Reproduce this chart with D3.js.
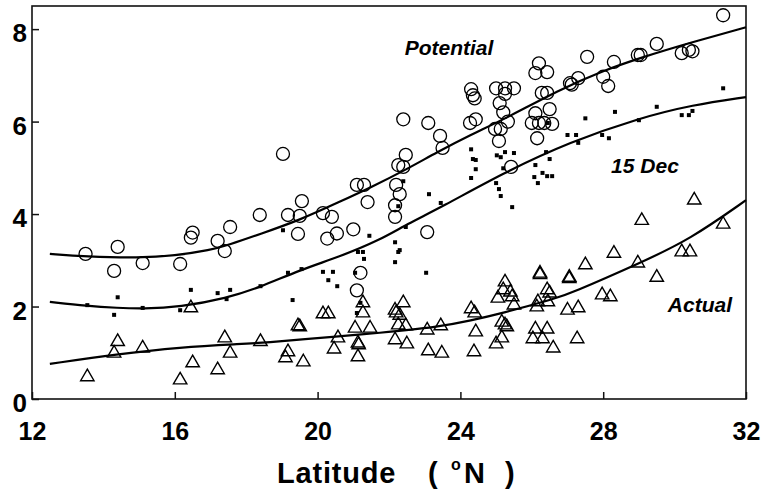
<!DOCTYPE html>
<html>
<head>
<meta charset="utf-8">
<script src="https://cdn.jsdelivr.net/npm/d3@7"></script>
<style>
  html, body { margin: 0; padding: 0; background: #fff; }
  svg { display: block; font-family: "Liberation Sans", Arial, Helvetica, sans-serif; }
</style>
</head>
<body>
<svg id="chart" width="768" height="492"></svg>
<script>
// Latitude (°N) and value for each station, per series
const potentialPts = [
  [13.5,3.14],[14.3,2.77],[14.4,3.29],[15.1,2.94],[16.15,2.92],[16.45,3.49],[16.5,3.6],
  [17.2,3.42],[17.4,3.2],[17.55,3.72],[18.38,3.98],[19.03,5.3],[19.17,3.98],[19.5,3.96],
  [19.45,3.57],[19.56,4.28],[20.15,4.02],[20.4,3.94],[20.27,3.47],[20.54,3.58],[21.0,3.67],
  [21.1,4.63],[21.3,4.63],[21.4,4.26],[21.2,2.73],[21.1,2.35],[22.17,4.19],[22.17,3.94],
  [22.26,5.06],[22.47,5.28],[22.4,5.02],[22.2,4.63],[22.3,4.43],[22.4,6.05],[23.07,3.61],
  [23.1,5.97],[23.43,5.69],[23.5,5.43],[24.27,5.97],[24.43,6.05],[24.3,6.7],[24.35,6.57],
  [24.4,6.5],[25.0,6.72],[25.25,6.72],[25.5,6.72],[25.25,6.6],[25.1,6.4],[25.2,6.2],
  [25.33,6.0],[24.97,5.84],[25.13,5.84],[25.08,5.58],[25.42,5.02],[26.2,7.26],[26.43,7.07],
  [26.1,7.05],[26.28,6.62],[26.43,6.62],[26.1,6.18],[26.5,6.27],[26.0,5.97],[26.2,5.97],
  [26.35,5.97],[26.57,5.95],[26.15,5.64],[27.07,6.83],[27.12,6.8],[27.3,6.94],[27.55,7.4],
  [28.0,6.97],[28.14,6.77],[28.3,7.29],[28.97,7.44],[29.05,7.44],[29.5,7.68],[30.2,7.48],
  [30.4,7.55],[30.5,7.52],[31.36,8.3]
];

const dec15Pts = [
  [13.55,2.03],[14.3,1.82],[14.4,2.2],[15.1,1.97],[16.15,1.92],[16.45,2.36],[17.2,2.29],
  [17.55,2.36],[17.45,2.16],[18.4,2.44],[19.03,3.65],[19.17,2.73],[19.55,2.81],[19.3,2.14],
  [20.15,2.75],[20.43,2.75],[20.3,2.57],[20.55,2.44],[21.13,3.18],[21.27,3.18],[21.3,3.03],
  [21.05,2.73],[21.2,2.08],[21.1,1.86],[21.45,3.53],[22.17,3.39],[22.3,3.22],[22.26,3.18],
  [22.17,2.96],[22.26,4.17],[22.47,3.72],[23.04,2.73],[23.45,4.24],[22.4,4.71],[23.12,4.43],
  [24.3,5.4],[24.35,5.19],[24.43,5.17],[24.43,4.97],[24.3,4.78],[25.02,5.27],[25.13,5.23],
  [25.25,5.34],[25.5,5.32],[25.2,4.99],[25.0,4.67],[25.08,4.54],[25.13,4.39],[25.45,4.15],
  [26.45,5.97],[26.4,5.34],[26.5,5.19],[26.1,5.06],[26.3,4.89],[26.43,4.82],[26.57,4.82],
  [26.07,4.8],[26.17,4.67],[27.0,5.71],[27.24,5.71],[27.3,5.54],[27.5,6.07],[27.97,5.71],
  [28.16,5.64],[28.33,6.21],[29.0,6.03],[29.5,6.32],[30.2,6.14],[30.4,6.14],[30.5,6.23],
  [31.36,6.72]
];

const actualPts = [
  [13.55,0.48],[14.3,0.99],[14.4,1.24],[15.1,1.1],[16.15,0.41],[16.5,0.78],[16.45,1.97],
  [17.2,0.63],[17.4,1.32],[17.55,0.99],[18.4,1.24],[19.17,1.02],[19.1,0.89],[19.6,0.8],
  [19.45,1.58],[19.5,1.56],[20.15,1.84],[20.3,1.84],[20.57,1.32],[20.46,1.08],[21.05,1.53],
  [21.13,1.21],[21.15,1.17],[21.13,0.91],[21.47,1.53],[21.27,2.08],[21.27,1.86],[22.17,1.92],
  [22.2,1.86],[22.3,1.81],[22.4,2.08],[22.26,1.6],[22.47,1.58],[22.17,1.28],[22.5,1.19],
  [23.07,1.49],[23.45,1.58],[23.1,1.04],[23.48,0.99],[24.3,1.95],[24.4,1.86],[24.43,1.45],
  [24.38,1.02],[25.05,2.18],[25.25,2.53],[25.2,2.36],[25.4,2.31],[25.45,2.21],[25.5,2.03],
  [25.16,1.66],[25.25,1.6],[25.3,1.56],[25.16,1.32],[25.0,1.19],[26.23,2.72],[26.23,2.69],
  [26.43,2.36],[26.5,2.29],[26.17,2.1],[26.14,1.99],[26.45,2.1],[26.1,1.51],[26.43,1.51],
  [26.03,1.3],[26.3,1.3],[26.6,1.1],[27.05,2.63],[27.05,2.6],[27.0,1.92],[27.3,1.97],
  [27.27,1.3],[27.5,2.9],[27.97,2.25],[28.2,2.21],[28.3,3.15],[28.97,2.94],[29.08,3.86],
  [29.5,2.63],[30.2,3.18],[30.43,3.18],[30.55,4.3],[31.36,3.78]
];

// Fitted curves through each series
const potentialFit = [
  [12.5,3.14],[13.5,3.08],[15,3.05],[16,3.1],[17,3.22],[17.5,3.33],[18.4,3.57],[19.5,3.87],
  [20.6,4.26],[21.5,4.58],[22.5,4.97],[23.35,5.34],[24.3,5.72],[25.2,6.04],[26.8,6.7],
  [28,7.1],[29,7.37],[30.5,7.72],[32,8.04]
];
const dec15Fit = [
  [12.5,2.1],[13.55,2.01],[14.4,1.97],[15.1,1.95],[16.15,1.99],[17.45,2.18],[18.4,2.42],
  [19.5,2.79],[20.63,3.08],[21.75,3.44],[22.5,3.78],[23.45,4.14],[25.2,4.89],[27.07,5.56],
  [29.03,6.08],[30.5,6.36],[32,6.53]
];
const actualFit = [
  [12.5,0.76],[14.38,0.97],[16.15,1.12],[17.83,1.19],[18.4,1.21],[20.63,1.36],[21.6,1.42],
  [23.43,1.56],[24.3,1.7],[25.1,1.84],[26.7,2.18],[27.07,2.28],[29.03,2.94],[30.43,3.45],
  [32,4.3]
];

const xTicks = [12, 16, 20, 24, 28, 32];
const yTicks = [0, 2, 4, 6, 8];

const seriesLabels = [
  { text: "Potential", lat: 23.68, val: 7.44 },
  { text: "15 Dec",    lat: 29.17, val: 4.89 },
  { text: "Actual",    lat: 30.71, val: 1.88 }
];

const svg = d3.select("#chart");
const plotLeft = 32, plotRight = 746, plotTop = 6, plotBottom = 399;

const x = d3.scaleLinear().domain([12, 32]).range([plotLeft, plotRight]);
const y = d3.scaleLinear().domain([0, 8.5]).range([plotBottom, plotTop]);

// Axes with inward ticks
const xAxis = svg.append("g")
  .attr("transform", `translate(0,${plotBottom})`)
  .call(d3.axisBottom(x).tickValues(xTicks).tickSize(-7).tickPadding(23).tickFormat(d3.format("d")));
xAxis.select(".domain").remove();
xAxis.selectAll("line").attr("stroke", "#111").attr("stroke-width", 1.5);
xAxis.selectAll("text").attr("font-size", 25).attr("font-weight", "bold").attr("fill", "#000")
  .attr("font-family", "'Liberation Sans', Arial, sans-serif");

const yAxis = svg.append("g")
  .attr("transform", `translate(${plotLeft},0)`)
  .call(d3.axisLeft(y).tickValues(yTicks).tickSize(-7).tickPadding(5).tickFormat(d3.format("d")));
yAxis.select(".domain").remove();
yAxis.selectAll("line").attr("stroke", "#111").attr("stroke-width", 1.5);
yAxis.selectAll("text").attr("font-size", 26).attr("font-weight", "bold").attr("fill", "#000")
  .attr("dy", "0.48em").attr("font-family", "'Liberation Sans', Arial, sans-serif");

// Plot frame
svg.append("rect")
  .attr("x", plotLeft).attr("y", plotTop)
  .attr("width", plotRight - plotLeft).attr("height", plotBottom - plotTop)
  .attr("fill", "none").attr("stroke", "#111").attr("stroke-width", 1.6);

// Fitted curves
const line = d3.line().x(d => x(d[0])).y(d => y(d[1])).curve(d3.curveBasis);
[potentialFit, dec15Fit, actualFit].forEach(pts => {
  svg.append("path").attr("d", line(pts))
    .attr("fill", "none").attr("stroke", "#000").attr("stroke-width", 2.2);
});

// Potential: open circles
svg.append("g").selectAll("circle").data(potentialPts).join("circle")
  .attr("cx", d => x(d[0])).attr("cy", d => y(d[1])).attr("r", 6.5)
  .attr("fill", "none").attr("stroke", "#000").attr("stroke-width", 1.3);

// 15 Dec: small filled squares
svg.append("g").selectAll("rect").data(dec15Pts).join("rect")
  .attr("x", d => x(d[0]) - 2).attr("y", d => y(d[1]) - 2)
  .attr("width", 4).attr("height", 4).attr("fill", "#000");

// Actual: open triangles
const tri = d3.symbol().type(d3.symbolTriangle).size(78);
svg.append("g").selectAll("path").data(actualPts).join("path")
  .attr("transform", d => `translate(${x(d[0])},${y(d[1])})`)
  .attr("d", tri)
  .attr("fill", "none").attr("stroke", "#000").attr("stroke-width", 1.4);

// Series labels
svg.append("g").selectAll("text").data(seriesLabels).join("text")
  .attr("x", d => x(d.lat)).attr("y", d => y(d.val))
  .attr("text-anchor", "middle")
  .attr("font-size", 21).attr("font-weight", "bold").attr("font-style", "italic")
  .text(d => d.text);

// Axis title: "Latitude ( °N )" with a raised degree mark
const title = svg.append("text")
  .attr("y", 483)
  .attr("font-size", 29).attr("font-weight", "bold").attr("letter-spacing", 0.8).attr("fill", "#000");
title.append("tspan").attr("x", 277).text("Latitude");
title.append("tspan").attr("x", 428).text("(");
title.append("tspan").attr("x", 451).attr("dy", -13).attr("font-size", 16).text("o");
title.append("tspan").attr("x", 464).attr("dy", 13).text("N");
title.append("tspan").attr("x", 505).text(")");
</script>
</body>
</html>
